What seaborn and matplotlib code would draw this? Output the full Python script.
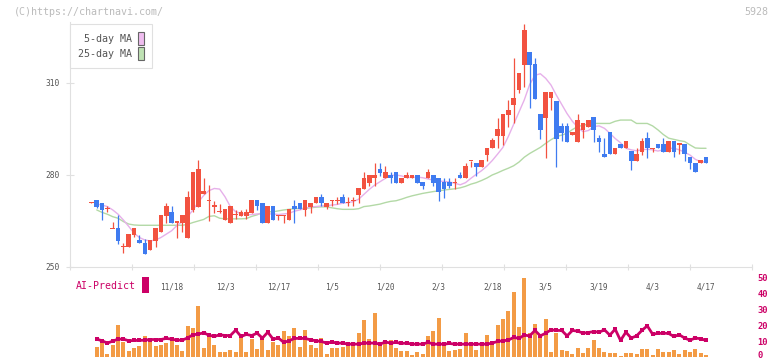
import matplotlib
matplotlib.use("Agg")
import matplotlib.pyplot as plt
from matplotlib.patches import Patch, Rectangle
import matplotlib.transforms as mtransforms
import numpy as np
import pandas as pd
import seaborn as sns

# ---------------- data ----------------
date_labels = ['11/18', '12/3', '12/17', '1/5', '1/20', '2/3', '2/18', '3/5', '3/19', '4/3', '4/17']
date_label_days = [15, 25, 35, 45, 55, 65, 75, 85, 95, 105, 115]

opens = [271.0, 271.8, 271.0, 268.8, 262.6, 262.6, 256.6, 256.6, 260.4, 258.8,
         257.7, 255.5, 258.6, 261.5, 266.6, 267.9, 264.7, 264.4, 259.5, 268.6,
         269.7, 273.7, 271.8, 269.9, 268.0, 265.3, 264.4, 267.0, 266.6, 266.6,
         267.7, 271.8, 271.0, 264.4, 269.9, 266.9, 266.9, 265.3, 269.9, 271.0,
         268.6, 269.7, 270.8, 272.9, 269.7, 271.8, 271.8, 272.7, 271.0, 271.8,
         273.5, 275.4, 277.5, 278.9, 281.8, 278.9, 280.0, 280.9, 277.5, 278.9,
         278.9, 280.0, 277.8, 278.9, 280.0, 278.9, 277.8, 277.8, 277.6, 280.0,
         278.9, 284.7, 283.8, 282.7, 286.5, 288.7, 292.8, 292.8, 299.5, 302.8,
         307.7, 315.9, 320.1, 316.2, 299.9, 298.7, 305.0, 304.2, 296.0, 296.0,
         292.9, 290.9, 294.7, 295.8, 298.8, 292.2, 286.8, 293.9, 286.7, 290.1,
         288.7, 287.8, 284.7, 287.6, 292.2, 288.7, 290.1, 290.1, 287.6, 291.1,
         290.1, 290.1, 285.8, 283.8, 283.8, 285.8]
highs = [271.2, 271.8, 271.0, 270.0, 264.8, 267.0, 257.7, 260.7, 262.7, 260.4,
         259.0, 258.8, 262.6, 267.0, 271.0, 269.9, 264.7, 267.0, 274.8, 281.0,
         284.9, 279.1, 276.7, 271.5, 270.5, 268.8, 269.9, 268.5, 268.6, 269.0,
         271.8, 271.8, 271.0, 269.9, 269.9, 266.9, 266.9, 268.8, 271.8, 271.0,
         271.8, 271.0, 272.9, 273.8, 271.0, 271.8, 272.7, 273.8, 272.7, 272.7,
         275.6, 281.1, 280.0, 283.8, 283.8, 282.9, 281.0, 280.9, 278.9, 280.9,
         280.0, 280.0, 277.8, 282.0, 280.0, 278.9, 278.9, 278.9, 278.9, 280.9,
         283.8, 284.7, 283.8, 284.9, 288.7, 292.2, 298.5, 299.9, 304.5, 318.2,
         313.4, 329.2, 320.1, 318.1, 299.9, 307.2, 307.2, 304.2, 297.0, 297.0,
         294.1, 299.9, 296.9, 298.0, 298.8, 293.0, 292.2, 293.9, 288.7, 290.1,
         291.1, 287.8, 288.7, 292.2, 294.0, 288.7, 290.1, 292.2, 291.1, 291.1,
         290.1, 290.1, 285.8, 283.8, 284.9, 285.8]
lows = [270.8, 269.2, 265.3, 268.0, 262.6, 257.5, 254.5, 256.6, 259.7, 257.7,
        254.2, 255.5, 256.6, 261.5, 264.4, 264.4, 259.5, 261.5, 259.5, 267.8,
        269.7, 273.7, 265.1, 267.7, 267.5, 265.3, 264.4, 265.5, 266.6, 265.5,
        267.7, 268.6, 264.4, 264.4, 265.3, 265.3, 264.4, 265.3, 264.4, 268.8,
        266.6, 267.7, 270.8, 270.0, 268.8, 269.9, 270.4, 270.8, 270.0, 270.0,
        270.8, 275.4, 276.4, 276.4, 279.8, 278.9, 277.5, 277.5, 277.5, 278.9,
        278.9, 277.5, 275.4, 278.9, 276.4, 271.5, 272.6, 275.7, 275.4, 278.9,
        278.9, 282.7, 279.8, 282.7, 284.7, 288.7, 288.7, 289.8, 295.7, 296.9,
        306.8, 308.8, 301.9, 304.8, 291.7, 285.6, 301.2, 282.7, 291.0, 290.9,
        292.9, 290.9, 292.0, 295.8, 290.9, 287.5, 285.8, 286.7, 286.7, 288.7,
        288.7, 281.6, 284.7, 286.5, 285.6, 287.6, 288.7, 287.6, 287.6, 285.8,
        286.7, 284.7, 281.9, 280.9, 283.8, 283.8]
closes = [271.0, 269.7, 268.6, 269.1, 262.6, 258.6, 256.6, 260.7, 262.7, 257.7,
          254.2, 258.8, 262.6, 267.0, 269.9, 264.4, 264.7, 267.0, 272.9, 281.0,
          282.0, 274.8, 271.8, 269.9, 268.0, 268.8, 269.9, 267.0, 267.9, 267.9,
          271.8, 269.9, 264.4, 269.9, 265.3, 266.9, 266.9, 268.8, 268.8, 268.8,
          271.8, 271.0, 272.9, 270.8, 271.0, 271.8, 271.8, 270.8, 271.0, 271.8,
          275.6, 278.9, 280.0, 280.0, 280.8, 280.9, 278.9, 277.5, 278.9, 280.0,
          280.0, 277.5, 276.4, 280.9, 277.5, 274.6, 275.4, 276.4, 277.6, 278.9,
          282.9, 284.7, 282.7, 284.9, 288.7, 291.4, 295.1, 299.9, 301.2, 305.0,
          313.4, 327.3, 315.9, 304.8, 294.7, 307.2, 307.2, 291.7, 293.8, 290.9,
          294.1, 298.0, 296.9, 298.0, 294.7, 290.9, 285.8, 286.7, 288.7, 288.7,
          291.1, 284.7, 286.8, 291.1, 288.7, 288.7, 288.7, 287.6, 291.1, 287.6,
          290.1, 286.7, 283.8, 280.9, 284.9, 283.8]

ma5 = [None,
       270.5, 270.2, 269.7, 268.6, 267.2, 265.3, 263.2, 261.0, 259.6, 258.8,
       258.5, 258.8, 259.6, 260.7, 261.8, 263.5, 264.8, 266.4, 268.6, 271.1,
       273.3, 274.9, 275.6, 275.4, 272.9, 269.7, 268.0, 267.5, 267.0, 267.1,
       267.3, 267.3, 267.3, 267.3, 267.1, 267.3, 267.5, 268.2, 268.6, 269.1,
       269.6, 269.7, 269.9, 270.0, 270.2, 270.4, 270.8, 271.0, 271.3, 272.1,
       273.7, 275.3, 276.7, 277.8, 278.9, 279.8, 280.0, 279.7, 279.2, 279.2,
       279.3, 279.1, 278.7, 278.3, 278.0, 277.9, 277.7, 277.3, 276.8, 277.5,
       278.9, 280.2, 281.4, 282.9, 284.7, 286.8, 289.0, 292.5, 296.5, 300.5,
       304.5, 309.5, 312.5, 313.0, 311.5, 309.3, 306.0, 303.0, 300.0, 297.5,
       295.5, 294.1, 294.5, 295.8, 296.0, 295.2, 293.6, 291.9, 290.5, 288.7,
       288.2, 287.9, 288.2, 288.4, 288.2, 287.8, 288.2, 288.7, 288.7, 288.2,
       287.4, 286.5, 285.1, 284.3, 284.3]
ma25 = [None,
        268.6, 267.8, 267.2, 266.4, 265.9, 264.8, 264.0, 263.7, 263.6, 263.6,
        263.6, 263.6, 263.6, 263.6, 263.6, 263.6, 263.6, 263.9, 264.5, 265.0,
        265.5, 266.5, 266.7, 265.9, 265.7, 265.7, 265.7, 265.7, 265.8, 266.5,
        267.0, 267.8, 268.0, 268.0, 268.3, 268.6, 268.8, 269.0, 269.1, 269.1,
        269.3, 269.5, 269.6, 269.6, 269.3, 269.0, 268.8, 268.8, 268.8, 269.0,
        269.7, 269.9, 270.2, 270.5, 271.0, 271.4, 271.6, 272.1, 272.7, 273.2,
        273.6, 274.0, 274.3, 274.6, 274.8, 275.1, 275.3, 275.5, 275.8, 276.3,
        277.0, 277.5, 278.2, 279.0, 280.0, 280.7, 281.5, 282.2, 283.0, 284.2,
        285.8, 287.0, 288.0, 289.0, 290.3, 291.5, 292.5, 293.0, 293.6, 294.8,
        295.8, 296.2, 296.6, 296.8, 296.8, 296.8, 296.8, 297.5, 297.9, 297.9,
        297.9, 296.8, 296.8, 296.8, 296.0, 294.7, 293.2, 292.0, 291.6, 291.2,
        290.9, 289.8, 288.8, 288.7, 288.7]
volume = [None,
          6.0, 9.5, 1.6, 7.8, 20.3, 9.5, 4.0, 5.4, 6.9, 13.5,
          9.5, 6.9, 7.8, 9.1, 10.5, 7.4, 3.5, 19.8, 18.5, 32.3,
          5.4, 12.6, 7.8, 2.9, 2.9, 4.2, 2.9, 12.6, 2.9, 11.4,
          4.8, 11.0, 4.2, 9.5, 7.8, 16.6, 13.0, 18.5, 6.0, 17.2,
          7.8, 5.4, 12.2, 1.6, 5.4, 5.4, 6.0, 7.4, 7.8, 15.3,
          23.5, 11.6, 27.8, 6.9, 8.5, 10.5, 5.4, 3.6, 3.6, 1.2,
          3.0, 1.8, 13.2, 16.1, 24.5, 9.3, 3.6, 4.3, 4.9, 14.9,
          7.0, 4.3, 9.3, 13.6, 9.9, 19.9, 23.8, 29.0, 40.9, 19.0,
          49.4, 15.0, 21.0, 13.5, 24.0, 3.0, 14.9, 4.3, 3.6, 1.8,
          5.5, 2.4, 5.5, 10.5, 5.5, 3.0, 2.4, 2.4, 0.6, 2.4,
          2.4, 1.8, 4.9, 4.9, 1.2, 4.9, 3.0, 3.0, 4.3, 1.8,
          4.3, 3.0, 4.9, 2.4, 1.2]
ai_predict = [None,
              11.25, 10.2, 8.75, 10.0, 11.25, 11.25, 10.2, 10.4, 10.4, 10.6,
              11.0, 11.0, 11.0, 11.7, 11.25, 10.6, 10.6, 12.0, 14.0, 14.4,
              15.2, 13.75, 12.9, 14.0, 13.5, 13.5, 16.9, 12.9, 14.2, 13.5,
              15.0, 11.9, 15.6, 11.25, 11.9, 9.2, 10.2, 11.7, 11.7, 11.7,
              10.8, 10.2, 9.8, 8.75, 9.4, 8.75, 8.75, 8.1, 8.1, 8.1,
              8.75, 8.75, 8.75, 8.1, 9.4, 8.75, 9.2, 8.5, 8.75, 8.1,
              8.1, 8.1, 9.2, 8.1, 8.1, 8.1, 8.5, 8.1, 8.1, 8.1,
              8.1, 8.1, 8.1, 8.1, 8.75, 9.8, 10.2, 10.6, 12.3, 11.7,
              13.75, 13.3, 16.7, 13.3, 15.0, 17.1, 16.7, 16.7, 13.3, 16.7,
              16.25, 15.0, 15.4, 16.0, 15.6, 17.1, 13.75, 17.5, 10.4, 15.6,
              11.9, 13.3, 16.7, 19.6, 14.4, 14.8, 15.0, 14.8, 12.9, 14.0,
              11.9, 10.6, 11.9, 11.5, 10.4]

# ---------------- style ----------------
sns.set_theme(style="ticks")
plt.rcParams["font.family"] = ["DejaVu Sans Mono", "DejaVu Sans"]

RED = "#f25240"
BLUE = "#3f7bf0"
PINK = "#e6b0ea"
GREEN = "#b3d9a6"
ORANGE = "#f39b45"
CRIMSON = "#cc0066"
AXIS = "#e0e0e0"
TXT = "#555555"

df = pd.DataFrame({"day": np.arange(len(opens)), "open": opens, "high": highs,
                   "low": lows, "close": closes,
                   "ma5": pd.to_numeric(pd.Series(ma5), errors="coerce"),
                   "ma25": pd.to_numeric(pd.Series(ma25), errors="coerce"),
                   "volume": pd.to_numeric(pd.Series(volume), errors="coerce"),
                   "ai": pd.to_numeric(pd.Series(ai_predict), errors="coerce")})
df["up"] = df["close"] >= df["open"]

W, H = 772, 361
fig = plt.figure(figsize=(W / 100, H / 100), dpi=100)
XMIN, XMAX = -4, 123.6

# ---------------- price panel ----------------
ax = fig.add_axes([70 / W, 1 - 267 / H, 682 / W, (267 - 21.6) / H])
ax.set_xlim(XMIN, XMAX)
ax.set_ylim(250, 330)

ma_df = df.dropna(subset=["ma5"])
sns.lineplot(data=ma_df, x="day", y="ma25", color=GREEN, lw=1, ax=ax, zorder=1, legend=False)
sns.lineplot(data=ma_df, x="day", y="ma5", color=PINK, lw=1, ax=ax, zorder=1, legend=False)

colors = np.where(df["up"], RED, BLUE)
ax.vlines(df["day"], df["low"], df["high"], colors=colors, lw=0.9, zorder=2)
diff = (df["close"] - df["open"]).abs()
body_h = np.maximum(diff, 0.4)
body_lo = np.minimum(df["open"], df["close"]) - (body_h - diff) / 2
ax.bar(df["day"], body_h, bottom=body_lo, width=0.86, color=colors, lw=0, zorder=3)

ax.set_xlabel("")
ax.set_ylabel("")
for s in ["top", "right"]:
    ax.spines[s].set_visible(False)
for s in ["left", "bottom"]:
    ax.spines[s].set_color(AXIS)
    ax.spines[s].set_linewidth(0.8)

ax.set_yticks([250, 280, 310])
ax.tick_params(axis="y", direction="inout", length=5.5, width=0.8, color=AXIS,
               labelcolor=TXT, labelsize=5.7, pad=5)
ax.set_xticks(date_label_days, date_labels)
ax.tick_params(axis="x", which="major", length=0, pad=11.5, labelsize=5.6, labelcolor=TXT)
ax.set_xticks(np.linspace(XMIN, XMAX, 12), minor=True)
ax.tick_params(axis="x", which="minor", direction="inout", length=3.8, width=0.8, color=AXIS)

handles = [Patch(facecolor="#efbdef", edgecolor="#666666", lw=0.8),
           Patch(facecolor="#bfe2b4", edgecolor="#666666", lw=0.8)]
leg = ax.legend(handles, ["5-day MA", "25-day MA"], loc="upper left",
                bbox_to_anchor=(70 / W, 1 - 24 / H), bbox_transform=fig.transFigure,
                borderaxespad=0, markerfirst=False, fancybox=False, framealpha=1,
                edgecolor=AXIS, handlelength=0.6, handleheight=1.6, handletextpad=0.55,
                labelspacing=0.2, borderpad=0.8, fontsize=7.2, labelcolor=TXT)
leg.get_frame().set_linewidth(0.8)

# ---------------- volume / AI panel ----------------
vax = fig.add_axes([70 / W, 1 - 357.0 / H, 682 / W, 52 * 1.59 / H])
vax.patch.set_alpha(0)
vdf = df.dropna(subset=["volume"])
sns.barplot(data=vdf, x="day", y="volume", native_scale=True, color=ORANGE, saturation=1,
            width=0.75, errorbar=None, linewidth=0, ax=vax)
sns.lineplot(data=vdf, x="day", y="ai", color=CRIMSON, lw=2.0, marker="s", markersize=2.6,
             markeredgewidth=0, ax=vax, legend=False, zorder=5)
vax.set_xlim(XMIN, XMAX)
vax.set_ylim(0, 52)
vax.set_xlabel("")
vax.set_ylabel("")
for s in vax.spines.values():
    s.set_visible(False)
vax.set_xticks([])
vax.yaxis.tick_right()
vax.set_yticks([0, 10, 20, 30, 40, 50])
vax.tick_params(axis="y", length=0, labelcolor=CRIMSON, labelsize=6.3, pad=4)
for t in vax.get_yticklabels():
    t.set_fontweight("bold")
# lift the bottom "0" label a touch so it stays inside the canvas
zero_lbl = vax.get_yticklabels()[0]
zero_lbl.set_transform(zero_lbl.get_transform() +
                       mtransforms.ScaledTranslation(0, 1.5 / 72, fig.dpi_scale_trans))

# ---------------- texts ----------------
fig.text(14 / W, 1 - 12 / H, "(C)https://chartnavi.com/", fontsize=7.2, color="#bbbbbb",
         ha="left", va="center")
fig.text(768 / W, 1 - 12 / H, "5928", fontsize=7.2, color="#bbbbbb", ha="right", va="center")
fig.text(76 / W, 1 - 286 / H, "AI-Predict", fontsize=7.1, color=CRIMSON, ha="left", va="center")
fig.add_artist(Rectangle((142.3 / W, 1 - 292.7 / H), 6.4 / W, 16 / H,
                         transform=fig.transFigure, facecolor=CRIMSON, lw=0))

fig.savefig("out.png", dpi=100)
